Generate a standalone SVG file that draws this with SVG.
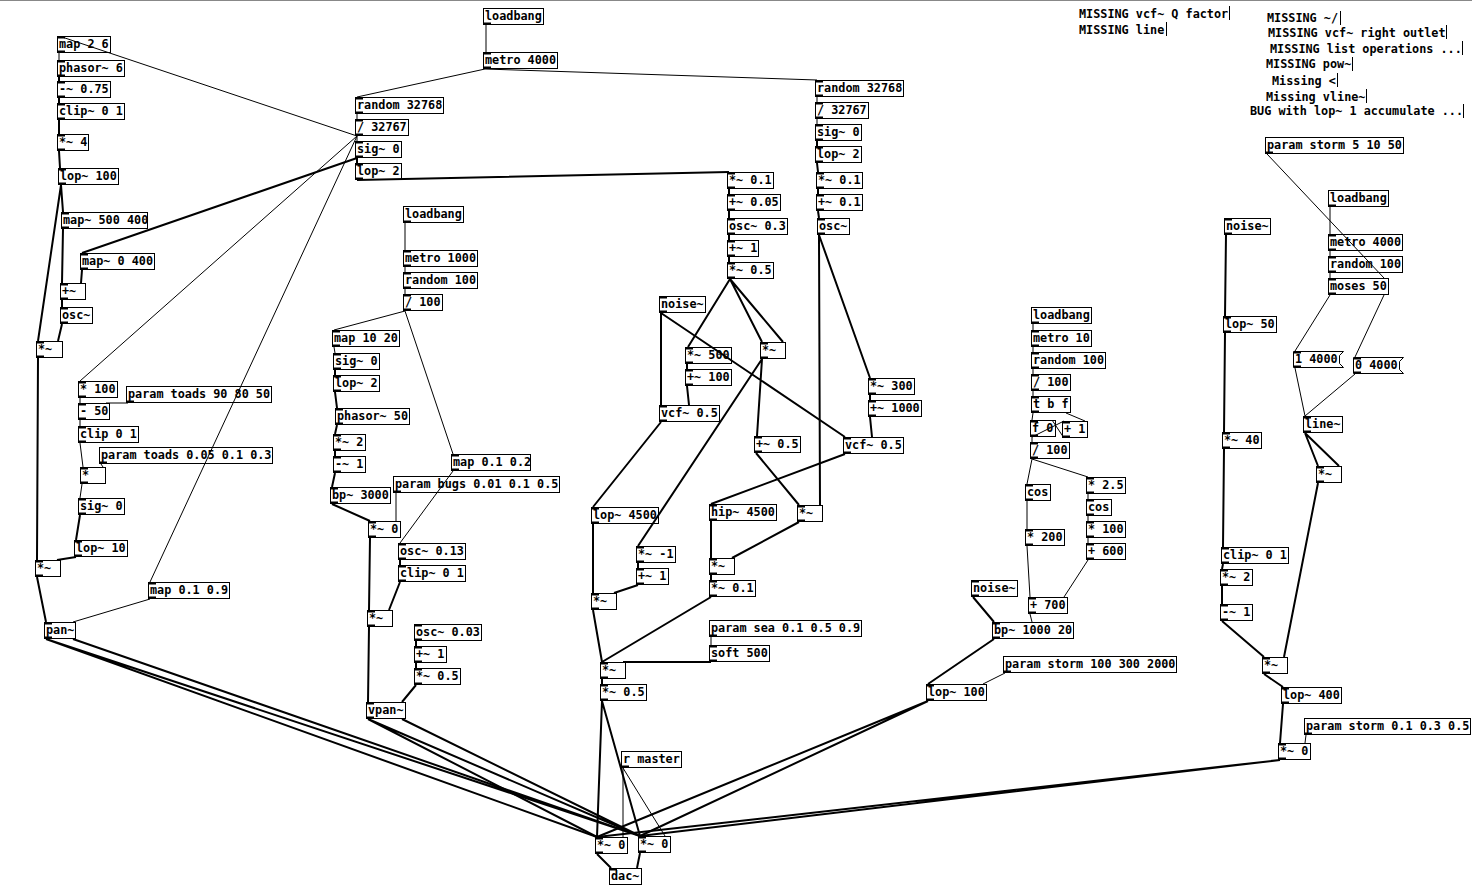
<svg xmlns="http://www.w3.org/2000/svg" width="1472" height="890" viewBox="0 0 1472 890">
<style>
text{font-family:"DejaVu Sans Mono","Liberation Mono",monospace;font-weight:bold;font-size:11.8px;fill:#000}
.b{fill:none;stroke:#000;stroke-width:1}
.io{stroke:#000;stroke-width:2;fill:none}
.s{stroke:#000;stroke-width:2;fill:none}
.c{stroke:#000;stroke-width:1;fill:none}
.bar{stroke:#000;stroke-width:1}
</style>
<rect width="1472" height="890" fill="#fff"/>
<line x1="0" y1="0.5" x2="1472" y2="0.5" stroke="#888"/>
<g id="connections">
<path class="c" d="M357 136L62 37M59 53L59 60M357 136L80 381M80 398L80 403M128 403L106 403M80 420L80 426M80 443L83 467M101 464L103 467M82 484L80 498M357 136L150 582M150 599L73 622"/>
<path class="s" d="M59 77L59 81M59 98L59 103M59 120L59 134M59 151L60 168M61 185L63 212M61 185L38 341M63 229L62 283M357 158L82 253M82 270L81 283M62 300L62 307M62 324L58 341M38 358L37 560M80 515L76 540M76 557L57 560M37 577L46 622M46 639L597 837M46 639L640 836M73 639L640 836"/>
<path class="c" d="M486 25L486 52M485 69L357 97M485 69L817 80M357 114L357 119M357 136L357 141M817 97L817 102M817 119L817 124"/>
<path class="s" d="M357 158L357 163M357 180L729 172M817 141L817 146M817 163L818 172M818 189L818 194M818 211L819 218M819 235L820 505M819 235L870 378M729 189L729 194M729 211L729 218M729 235L729 240M729 257L729 262M730 279L688 347M730 279L762 342M730 279L783 342"/>
<path class="c" d="M405 223L405 250M405 267L405 272M405 289L405 294M405 311L334 330M405 311L453 454M334 347L335 353M396 493L396 521M453 471L400 543"/>
<path class="s" d="M335 370L335 375M335 392L337 408M337 425L335 434M335 451L335 456M335 473L332 487M332 504L370 521M370 538L369 610M400 560L400 565M400 582L389 610M369 627L368 702M416 641L416 646M416 663L416 668M416 685L402 702M368 719L597 837M368 719L640 836M402 719L640 836"/>
<path class="s" d="M661 313L661 405M661 313L845 437M687 364L687 369M687 386L689 405M762 359L638 546M762 359L757 436M661 422L593 507M756 453L799 505M870 395L870 400M870 417L872 437M845 454L711 504M593 524L593 593M638 563L638 568M638 585L614 593M711 521L711 558M799 522L732 558M711 575L711 580M711 597L602 662M593 610L602 662M711 662L623 662M602 679L602 684M602 701L597 837M602 701L640 836M597 854L611 868M640 853L637 868"/>
<path class="c" d="M711 637L711 645M623 768L623 837M623 768L665 836"/>
<path class="c" d="M1033 324L1033 330M1033 347L1033 352M1033 369L1033 374M1033 391L1033 396M1033 413L1032 420M1066 413L1085 421M1032 437L1064 421M1064 438L1052 420M1032 437L1032 442M1032 459L1027 484M1032 459L1088 477M1027 501L1027 529M1088 494L1088 499M1088 516L1088 521M1088 538L1088 543M1027 546L1030 597M1088 560L1064 597M1030 614L1032 622M1005 673L983 684"/>
<path class="s" d="M973 597L994 622M994 639L928 684M928 701L597 837M928 701L640 836"/>
<path class="c" d="M1267 154L1384 278M1330 207L1330 234M1330 251L1330 256M1330 273L1330 278M1330 295L1295 351M1384 295L1355 357M1295 368L1305 416M1355 374L1305 416M1306 735L1305 743"/>
<path class="s" d="M1226 235L1225 316M1225 333L1224 432M1224 449L1223 547M1223 564L1222 569M1222 586L1222 604M1222 621L1264 657M1305 433L1318 466M1305 433L1339 466M1318 483L1284 657M1264 674L1283 687M1283 704L1280 743M1280 760L597 837M1280 760L640 836"/>
</g>
<g id="n1"><rect class="b" x="57.5" y="36.5" width="53" height="16"/><path class="io" d="M58 37.5h7M58 51.5h7"/><text x="59" y="48">map 2 6</text></g>
<g id="n2"><rect class="b" x="57.5" y="60.5" width="67" height="16"/><path class="io" d="M58 61.5h7M58 75.5h7"/><text x="59" y="72">phasor~ 6</text></g>
<g id="n3"><rect class="b" x="57.5" y="81.5" width="53" height="16"/><path class="io" d="M58 82.5h7M58 96.5h7"/><text x="59" y="93">-~ 0.75</text></g>
<g id="n4"><rect class="b" x="57.5" y="103.5" width="67" height="16"/><path class="io" d="M58 104.5h7M58 118.5h7"/><text x="59" y="115">clip~ 0 1</text></g>
<g id="n5"><rect class="b" x="57.5" y="134.5" width="31" height="16"/><path class="io" d="M58 135.5h7M58 149.5h7"/><text x="59" y="146">*~ 4</text></g>
<g id="n6"><rect class="b" x="58.5" y="168.5" width="60" height="16"/><path class="io" d="M59 169.5h7M59 183.5h7"/><text x="60" y="180">lop~ 100</text></g>
<g id="n7"><rect class="b" x="61.5" y="212.5" width="86" height="16"/><path class="io" d="M62 213.5h7M62 227.5h7"/><text x="63" y="224">map~ 500 400</text></g>
<g id="n8"><rect class="b" x="80.5" y="253.5" width="74" height="16"/><path class="io" d="M81 254.5h7M81 268.5h7"/><text x="82" y="265">map~ 0 400</text></g>
<g id="n9"><rect class="b" x="60.5" y="283.5" width="25" height="16"/><path class="io" d="M61 284.5h7M61 298.5h7"/><text x="62" y="295">+~</text></g>
<g id="n10"><rect class="b" x="60.5" y="307.5" width="32" height="16"/><path class="io" d="M61 308.5h7M61 322.5h7"/><text x="62" y="319">osc~</text></g>
<g id="n11"><rect class="b" x="36.5" y="341.5" width="26" height="16"/><path class="io" d="M37 342.5h7M37 356.5h7"/><text x="38" y="353">*~</text></g>
<g id="n12"><rect class="b" x="78.5" y="381.5" width="39" height="16"/><path class="io" d="M79 382.5h7M79 396.5h7"/><text x="80" y="393">* 100</text></g>
<g id="n13"><rect class="b" x="126.5" y="386.5" width="145" height="16"/><path class="io" d="M127 401.5h7"/><text x="128" y="398">param toads 90 80 50</text></g>
<g id="n14"><rect class="b" x="78.5" y="403.5" width="31" height="16"/><path class="io" d="M79 404.5h7M79 418.5h7"/><text x="80" y="415">- 50</text></g>
<g id="n15"><rect class="b" x="78.5" y="426.5" width="60" height="16"/><path class="io" d="M79 427.5h7M79 441.5h7"/><text x="80" y="438">clip 0 1</text></g>
<g id="n16"><rect class="b" x="99.5" y="447.5" width="173" height="16"/><path class="io" d="M100 462.5h7"/><text x="101" y="459">param toads 0.05 0.1 0.3</text></g>
<g id="n17"><rect class="b" x="80.5" y="467.5" width="25" height="16"/><path class="io" d="M81 468.5h7M81 482.5h7"/><text x="82" y="479">*</text></g>
<g id="n18"><rect class="b" x="78.5" y="498.5" width="46" height="16"/><path class="io" d="M79 499.5h7M79 513.5h7"/><text x="80" y="510">sig~ 0</text></g>
<g id="n19"><rect class="b" x="74.5" y="540.5" width="53" height="16"/><path class="io" d="M75 541.5h7M75 555.5h7"/><text x="76" y="552">lop~ 10</text></g>
<g id="n20"><rect class="b" x="35.5" y="560.5" width="25" height="16"/><path class="io" d="M36 561.5h7M36 575.5h7"/><text x="37" y="572">*~</text></g>
<g id="n21"><rect class="b" x="148.5" y="582.5" width="81" height="16"/><path class="io" d="M149 583.5h7M149 597.5h7"/><text x="150" y="594">map 0.1 0.9</text></g>
<g id="n22"><rect class="b" x="44.5" y="622.5" width="31" height="16"/><path class="io" d="M45 623.5h7M45 637.5h7"/><text x="46" y="634">pan~</text></g>
<g id="n23"><rect class="b" x="483.5" y="8.5" width="60" height="16"/><path class="io" d="M484 23.5h7"/><text x="485" y="20">loadbang</text></g>
<g id="n24"><rect class="b" x="483.5" y="52.5" width="74" height="16"/><path class="io" d="M484 53.5h7M484 67.5h7"/><text x="485" y="64">metro 4000</text></g>
<g id="n25"><rect class="b" x="355.5" y="97.5" width="88" height="16"/><path class="io" d="M356 98.5h7M356 112.5h7"/><text x="357" y="109">random 32768</text></g>
<g id="n26"><rect class="b" x="355.5" y="119.5" width="53" height="16"/><path class="io" d="M356 120.5h7M356 134.5h7"/><text x="357" y="131">/ 32767</text></g>
<g id="n27"><rect class="b" x="355.5" y="141.5" width="46" height="16"/><path class="io" d="M356 142.5h7M356 156.5h7"/><text x="357" y="153">sig~ 0</text></g>
<g id="n28"><rect class="b" x="355.5" y="163.5" width="46" height="16"/><path class="io" d="M356 164.5h7M356 178.5h7"/><text x="357" y="175">lop~ 2</text></g>
<g id="n29"><rect class="b" x="815.5" y="80.5" width="88" height="16"/><path class="io" d="M816 81.5h7M816 95.5h7"/><text x="817" y="92">random 32768</text></g>
<g id="n30"><rect class="b" x="815.5" y="102.5" width="53" height="16"/><path class="io" d="M816 103.5h7M816 117.5h7"/><text x="817" y="114">/ 32767</text></g>
<g id="n31"><rect class="b" x="815.5" y="124.5" width="46" height="16"/><path class="io" d="M816 125.5h7M816 139.5h7"/><text x="817" y="136">sig~ 0</text></g>
<g id="n32"><rect class="b" x="815.5" y="146.5" width="46" height="16"/><path class="io" d="M816 147.5h7M816 161.5h7"/><text x="817" y="158">lop~ 2</text></g>
<g id="n33"><rect class="b" x="816.5" y="172.5" width="46" height="16"/><path class="io" d="M817 173.5h7M817 187.5h7"/><text x="818" y="184">*~ 0.1</text></g>
<g id="n34"><rect class="b" x="816.5" y="194.5" width="46" height="16"/><path class="io" d="M817 195.5h7M817 209.5h7"/><text x="818" y="206">+~ 0.1</text></g>
<g id="n35"><rect class="b" x="817.5" y="218.5" width="32" height="16"/><path class="io" d="M818 219.5h7M818 233.5h7"/><text x="819" y="230">osc~</text></g>
<g id="n36"><rect class="b" x="727.5" y="172.5" width="46" height="16"/><path class="io" d="M728 173.5h7M728 187.5h7"/><text x="729" y="184">*~ 0.1</text></g>
<g id="n37"><rect class="b" x="727.5" y="194.5" width="53" height="16"/><path class="io" d="M728 195.5h7M728 209.5h7"/><text x="729" y="206">+~ 0.05</text></g>
<g id="n38"><rect class="b" x="727.5" y="218.5" width="60" height="16"/><path class="io" d="M728 219.5h7M728 233.5h7"/><text x="729" y="230">osc~ 0.3</text></g>
<g id="n39"><rect class="b" x="727.5" y="240.5" width="31" height="16"/><path class="io" d="M728 241.5h7M728 255.5h7"/><text x="729" y="252">+~ 1</text></g>
<g id="n40"><rect class="b" x="727.5" y="262.5" width="46" height="16"/><path class="io" d="M728 263.5h7M728 277.5h7"/><text x="729" y="274">*~ 0.5</text></g>
<g id="n41"><rect class="b" x="403.5" y="206.5" width="60" height="16"/><path class="io" d="M404 221.5h7"/><text x="405" y="218">loadbang</text></g>
<g id="n42"><rect class="b" x="403.5" y="250.5" width="74" height="16"/><path class="io" d="M404 251.5h7M404 265.5h7"/><text x="405" y="262">metro 1000</text></g>
<g id="n43"><rect class="b" x="403.5" y="272.5" width="74" height="16"/><path class="io" d="M404 273.5h7M404 287.5h7"/><text x="405" y="284">random 100</text></g>
<g id="n44"><rect class="b" x="403.5" y="294.5" width="39" height="16"/><path class="io" d="M404 295.5h7M404 309.5h7"/><text x="405" y="306">/ 100</text></g>
<g id="n45"><rect class="b" x="332.5" y="330.5" width="67" height="16"/><path class="io" d="M333 331.5h7M333 345.5h7"/><text x="334" y="342">map 10 20</text></g>
<g id="n46"><rect class="b" x="333.5" y="353.5" width="46" height="16"/><path class="io" d="M334 354.5h7M334 368.5h7"/><text x="335" y="365">sig~ 0</text></g>
<g id="n47"><rect class="b" x="333.5" y="375.5" width="46" height="16"/><path class="io" d="M334 376.5h7M334 390.5h7"/><text x="335" y="387">lop~ 2</text></g>
<g id="n48"><rect class="b" x="335.5" y="408.5" width="74" height="16"/><path class="io" d="M336 409.5h7M336 423.5h7"/><text x="337" y="420">phasor~ 50</text></g>
<g id="n49"><rect class="b" x="333.5" y="434.5" width="32" height="16"/><path class="io" d="M334 435.5h7M334 449.5h7"/><text x="335" y="446">*~ 2</text></g>
<g id="n50"><rect class="b" x="333.5" y="456.5" width="32" height="16"/><path class="io" d="M334 457.5h7M334 471.5h7"/><text x="335" y="468">-~ 1</text></g>
<g id="n51"><rect class="b" x="330.5" y="487.5" width="60" height="16"/><path class="io" d="M331 488.5h7M331 502.5h7"/><text x="332" y="499">bp~ 3000</text></g>
<g id="n52"><rect class="b" x="368.5" y="521.5" width="32" height="16"/><path class="io" d="M369 522.5h7M369 536.5h7"/><text x="370" y="533">*~ 0</text></g>
<g id="n53"><rect class="b" x="451.5" y="454.5" width="79" height="16"/><path class="io" d="M452 455.5h7M452 469.5h7"/><text x="453" y="466">map 0.1 0.2</text></g>
<g id="n54"><rect class="b" x="393.5" y="476.5" width="166" height="16"/><path class="io" d="M394 491.5h7"/><text x="395" y="488">param bugs 0.01 0.1 0.5</text></g>
<g id="n55"><rect class="b" x="398.5" y="543.5" width="67" height="16"/><path class="io" d="M399 544.5h7M399 558.5h7"/><text x="400" y="555">osc~ 0.13</text></g>
<g id="n56"><rect class="b" x="398.5" y="565.5" width="67" height="16"/><path class="io" d="M399 566.5h7M399 580.5h7"/><text x="400" y="577">clip~ 0 1</text></g>
<g id="n57"><rect class="b" x="367.5" y="610.5" width="25" height="16"/><path class="io" d="M368 611.5h7M368 625.5h7"/><text x="369" y="622">*~</text></g>
<g id="n58"><rect class="b" x="414.5" y="624.5" width="67" height="16"/><path class="io" d="M415 625.5h7M415 639.5h7"/><text x="416" y="636">osc~ 0.03</text></g>
<g id="n59"><rect class="b" x="414.5" y="646.5" width="32" height="16"/><path class="io" d="M415 647.5h7M415 661.5h7"/><text x="416" y="658">+~ 1</text></g>
<g id="n60"><rect class="b" x="414.5" y="668.5" width="46" height="16"/><path class="io" d="M415 669.5h7M415 683.5h7"/><text x="416" y="680">*~ 0.5</text></g>
<g id="n61"><rect class="b" x="366.5" y="702.5" width="39" height="16"/><path class="io" d="M367 703.5h7M367 717.5h7"/><text x="368" y="714">vpan~</text></g>
<g id="n62"><rect class="b" x="659.5" y="296.5" width="46" height="16"/><path class="io" d="M660 297.5h7M660 311.5h7"/><text x="661" y="308">noise~</text></g>
<g id="n63"><rect class="b" x="685.5" y="347.5" width="46" height="16"/><path class="io" d="M686 348.5h7M686 362.5h7"/><text x="687" y="359">*~ 500</text></g>
<g id="n64"><rect class="b" x="685.5" y="369.5" width="46" height="16"/><path class="io" d="M686 370.5h7M686 384.5h7"/><text x="687" y="381">+~ 100</text></g>
<g id="n65"><rect class="b" x="760.5" y="342.5" width="25" height="16"/><path class="io" d="M761 343.5h7M761 357.5h7"/><text x="762" y="354">*~</text></g>
<g id="n66"><rect class="b" x="659.5" y="405.5" width="60" height="16"/><path class="io" d="M660 406.5h7M660 420.5h7"/><text x="661" y="417">vcf~ 0.5</text></g>
<g id="n67"><rect class="b" x="754.5" y="436.5" width="46" height="16"/><path class="io" d="M755 437.5h7M755 451.5h7"/><text x="756" y="448">+~ 0.5</text></g>
<g id="n68"><rect class="b" x="868.5" y="378.5" width="46" height="16"/><path class="io" d="M869 379.5h7M869 393.5h7"/><text x="870" y="390">*~ 300</text></g>
<g id="n69"><rect class="b" x="868.5" y="400.5" width="53" height="16"/><path class="io" d="M869 401.5h7M869 415.5h7"/><text x="870" y="412">+~ 1000</text></g>
<g id="n70"><rect class="b" x="843.5" y="437.5" width="60" height="16"/><path class="io" d="M844 438.5h7M844 452.5h7"/><text x="845" y="449">vcf~ 0.5</text></g>
<g id="n71"><rect class="b" x="591.5" y="507.5" width="67" height="16"/><path class="io" d="M592 508.5h7M592 522.5h7"/><text x="593" y="519">lop~ 4500</text></g>
<g id="n72"><rect class="b" x="709.5" y="504.5" width="67" height="16"/><path class="io" d="M710 505.5h7M710 519.5h7"/><text x="711" y="516">hip~ 4500</text></g>
<g id="n73"><rect class="b" x="797.5" y="505.5" width="25" height="16"/><path class="io" d="M798 506.5h7M798 520.5h7"/><text x="799" y="517">*~</text></g>
<g id="n74"><rect class="b" x="636.5" y="546.5" width="39" height="16"/><path class="io" d="M637 547.5h7M637 561.5h7"/><text x="638" y="558">*~ -1</text></g>
<g id="n75"><rect class="b" x="636.5" y="568.5" width="32" height="16"/><path class="io" d="M637 569.5h7M637 583.5h7"/><text x="638" y="580">+~ 1</text></g>
<g id="n76"><rect class="b" x="591.5" y="593.5" width="25" height="16"/><path class="io" d="M592 594.5h7M592 608.5h7"/><text x="593" y="605">*~</text></g>
<g id="n77"><rect class="b" x="709.5" y="558.5" width="25" height="16"/><path class="io" d="M710 559.5h7M710 573.5h7"/><text x="711" y="570">*~</text></g>
<g id="n78"><rect class="b" x="709.5" y="580.5" width="46" height="16"/><path class="io" d="M710 581.5h7M710 595.5h7"/><text x="711" y="592">*~ 0.1</text></g>
<g id="n79"><rect class="b" x="709.5" y="620.5" width="152" height="16"/><path class="io" d="M710 635.5h7"/><text x="711" y="632">param sea 0.1 0.5 0.9</text></g>
<g id="n80"><rect class="b" x="709.5" y="645.5" width="60" height="16"/><path class="io" d="M710 646.5h7M710 660.5h7"/><text x="711" y="657">soft 500</text></g>
<g id="n81"><rect class="b" x="600.5" y="662.5" width="25" height="16"/><path class="io" d="M601 663.5h7M601 677.5h7"/><text x="602" y="674">*~</text></g>
<g id="n82"><rect class="b" x="600.5" y="684.5" width="46" height="16"/><path class="io" d="M601 685.5h7M601 699.5h7"/><text x="602" y="696">*~ 0.5</text></g>
<g id="n83"><rect class="b" x="621.5" y="751.5" width="60" height="16"/><path class="io" d="M622 766.5h7"/><text x="623" y="763">r master</text></g>
<g id="n84"><rect class="b" x="595.5" y="837.5" width="32" height="16"/><path class="io" d="M596 838.5h7M596 852.5h7"/><text x="597" y="849">*~ 0</text></g>
<g id="n85"><rect class="b" x="638.5" y="836.5" width="32" height="16"/><path class="io" d="M639 837.5h7M639 851.5h7"/><text x="640" y="848">*~ 0</text></g>
<g id="n86"><rect class="b" x="609.5" y="868.5" width="32" height="16"/><path class="io" d="M610 869.5h7"/><text x="611" y="880">dac~</text></g>
<g id="n87"><rect class="b" x="1031.5" y="307.5" width="60" height="16"/><path class="io" d="M1032 322.5h7"/><text x="1033" y="319">loadbang</text></g>
<g id="n88"><rect class="b" x="1031.5" y="330.5" width="60" height="16"/><path class="io" d="M1032 331.5h7M1032 345.5h7"/><text x="1033" y="342">metro 10</text></g>
<g id="n89"><rect class="b" x="1031.5" y="352.5" width="74" height="16"/><path class="io" d="M1032 353.5h7M1032 367.5h7"/><text x="1033" y="364">random 100</text></g>
<g id="n90"><rect class="b" x="1031.5" y="374.5" width="39" height="16"/><path class="io" d="M1032 375.5h7M1032 389.5h7"/><text x="1033" y="386">/ 100</text></g>
<g id="n91"><rect class="b" x="1031.5" y="396.5" width="39" height="16"/><path class="io" d="M1032 397.5h7M1032 411.5h7"/><text x="1033" y="408">t b f</text></g>
<g id="n92"><rect class="b" x="1030.5" y="420.5" width="25" height="16"/><path class="io" d="M1031 421.5h7M1031 435.5h7"/><text x="1032" y="432">f 0</text></g>
<g id="n93"><rect class="b" x="1062.5" y="421.5" width="25" height="16"/><path class="io" d="M1063 422.5h7M1063 436.5h7"/><text x="1064" y="433">+ 1</text></g>
<g id="n94"><rect class="b" x="1030.5" y="442.5" width="39" height="16"/><path class="io" d="M1031 443.5h7M1031 457.5h7"/><text x="1032" y="454">/ 100</text></g>
<g id="n95"><rect class="b" x="1025.5" y="484.5" width="25" height="16"/><path class="io" d="M1026 485.5h7M1026 499.5h7"/><text x="1027" y="496">cos</text></g>
<g id="n96"><rect class="b" x="1086.5" y="477.5" width="39" height="16"/><path class="io" d="M1087 478.5h7M1087 492.5h7"/><text x="1088" y="489">* 2.5</text></g>
<g id="n97"><rect class="b" x="1086.5" y="499.5" width="25" height="16"/><path class="io" d="M1087 500.5h7M1087 514.5h7"/><text x="1088" y="511">cos</text></g>
<g id="n98"><rect class="b" x="1086.5" y="521.5" width="39" height="16"/><path class="io" d="M1087 522.5h7M1087 536.5h7"/><text x="1088" y="533">* 100</text></g>
<g id="n99"><rect class="b" x="1086.5" y="543.5" width="39" height="16"/><path class="io" d="M1087 544.5h7M1087 558.5h7"/><text x="1088" y="555">+ 600</text></g>
<g id="n100"><rect class="b" x="1025.5" y="529.5" width="39" height="16"/><path class="io" d="M1026 530.5h7M1026 544.5h7"/><text x="1027" y="541">* 200</text></g>
<g id="n101"><rect class="b" x="971.5" y="580.5" width="46" height="16"/><path class="io" d="M972 581.5h7M972 595.5h7"/><text x="973" y="592">noise~</text></g>
<g id="n102"><rect class="b" x="1028.5" y="597.5" width="39" height="16"/><path class="io" d="M1029 598.5h7M1029 612.5h7"/><text x="1030" y="609">+ 700</text></g>
<g id="n103"><rect class="b" x="992.5" y="622.5" width="81" height="16"/><path class="io" d="M993 623.5h7M993 637.5h7"/><text x="994" y="634">bp~ 1000 20</text></g>
<g id="n104"><rect class="b" x="1003.5" y="656.5" width="173" height="16"/><path class="io" d="M1004 671.5h7"/><text x="1005" y="668">param storm 100 300 2000</text></g>
<g id="n105"><rect class="b" x="926.5" y="684.5" width="60" height="16"/><path class="io" d="M927 685.5h7M927 699.5h7"/><text x="928" y="696">lop~ 100</text></g>
<g id="n106"><rect class="b" x="1265.5" y="137.5" width="138" height="16"/><path class="io" d="M1266 152.5h7"/><text x="1267" y="149">param storm 5 10 50</text></g>
<g id="n107"><rect class="b" x="1328.5" y="190.5" width="60" height="16"/><path class="io" d="M1329 205.5h7"/><text x="1330" y="202">loadbang</text></g>
<g id="n108"><rect class="b" x="1224.5" y="218.5" width="46" height="16"/><path class="io" d="M1225 219.5h7M1225 233.5h7"/><text x="1226" y="230">noise~</text></g>
<g id="n109"><rect class="b" x="1328.5" y="234.5" width="74" height="16"/><path class="io" d="M1329 235.5h7M1329 249.5h7"/><text x="1330" y="246">metro 4000</text></g>
<g id="n110"><rect class="b" x="1328.5" y="256.5" width="74" height="16"/><path class="io" d="M1329 257.5h7M1329 271.5h7"/><text x="1330" y="268">random 100</text></g>
<g id="n111"><rect class="b" x="1328.5" y="278.5" width="60" height="16"/><path class="io" d="M1329 279.5h7M1329 293.5h7"/><text x="1330" y="290">moses 50</text></g>
<g id="n112"><polygon class="b" points="1293.5,351.5 1343.5,351.5 1339.5,355.5 1339.5,363.5 1343.5,367.5 1293.5,367.5"/><path class="io" d="M1294 352.5h7M1294 366.5h7"/><text x="1295" y="363">1 4000</text></g>
<g id="n113"><polygon class="b" points="1353.5,357.5 1403.5,357.5 1399.5,361.5 1399.5,369.5 1403.5,373.5 1353.5,373.5"/><path class="io" d="M1354 358.5h7M1354 372.5h7"/><text x="1355" y="369">0 4000</text></g>
<g id="n114"><rect class="b" x="1223.5" y="316.5" width="53" height="16"/><path class="io" d="M1224 317.5h7M1224 331.5h7"/><text x="1225" y="328">lop~ 50</text></g>
<g id="n115"><rect class="b" x="1303.5" y="416.5" width="39" height="16"/><path class="io" d="M1304 417.5h7M1304 431.5h7"/><text x="1305" y="428">line~</text></g>
<g id="n116"><rect class="b" x="1316.5" y="466.5" width="25" height="16"/><path class="io" d="M1317 467.5h7M1317 481.5h7"/><text x="1318" y="478">*~</text></g>
<g id="n117"><rect class="b" x="1222.5" y="432.5" width="39" height="16"/><path class="io" d="M1223 433.5h7M1223 447.5h7"/><text x="1224" y="444">*~ 40</text></g>
<g id="n118"><rect class="b" x="1221.5" y="547.5" width="67" height="16"/><path class="io" d="M1222 548.5h7M1222 562.5h7"/><text x="1223" y="559">clip~ 0 1</text></g>
<g id="n119"><rect class="b" x="1220.5" y="569.5" width="32" height="16"/><path class="io" d="M1221 570.5h7M1221 584.5h7"/><text x="1222" y="581">*~ 2</text></g>
<g id="n120"><rect class="b" x="1220.5" y="604.5" width="32" height="16"/><path class="io" d="M1221 605.5h7M1221 619.5h7"/><text x="1222" y="616">-~ 1</text></g>
<g id="n121"><rect class="b" x="1262.5" y="657.5" width="25" height="16"/><path class="io" d="M1263 658.5h7M1263 672.5h7"/><text x="1264" y="669">*~</text></g>
<g id="n122"><rect class="b" x="1281.5" y="687.5" width="60" height="16"/><path class="io" d="M1282 688.5h7M1282 702.5h7"/><text x="1283" y="699">lop~ 400</text></g>
<g id="n123"><rect class="b" x="1304.5" y="718.5" width="166" height="16"/><path class="io" d="M1305 733.5h7"/><text x="1306" y="730">param storm 0.1 0.3 0.5</text></g>
<g id="n124"><rect class="b" x="1278.5" y="743.5" width="32" height="16"/><path class="io" d="M1279 744.5h7M1279 758.5h7"/><text x="1280" y="755">*~ 0</text></g>
<g id="comments">
<text x="1079" y="17.5">MISSING vcf~ Q factor</text><line class="bar" x1="1229.5" y1="6" x2="1229.5" y2="20"/>
<text x="1079" y="33.5">MISSING line</text><line class="bar" x1="1166.5" y1="22" x2="1166.5" y2="36"/>
<text x="1267" y="22">MISSING ~/</text><line class="bar" x1="1340.5" y1="11" x2="1340.5" y2="25"/>
<text x="1268" y="36.5">MISSING vcf~ right outlet</text><line class="bar" x1="1446.5" y1="25" x2="1446.5" y2="39"/>
<text x="1270" y="52.5">MISSING list operations ...</text><line class="bar" x1="1462.5" y1="41" x2="1462.5" y2="55"/>
<text x="1266" y="68">MISSING pow~</text><line class="bar" x1="1352.5" y1="57" x2="1352.5" y2="71"/>
<text x="1272" y="84.5">Missing &lt;</text><line class="bar" x1="1337.5" y1="73" x2="1337.5" y2="87"/>
<text x="1266" y="100.5">Missing vline~</text><line class="bar" x1="1366.5" y1="89" x2="1366.5" y2="103"/>
<text x="1250" y="115">BUG with lop~ 1 accumulate ...</text><line class="bar" x1="1463.5" y1="104" x2="1463.5" y2="118"/>
</g>
</svg>
